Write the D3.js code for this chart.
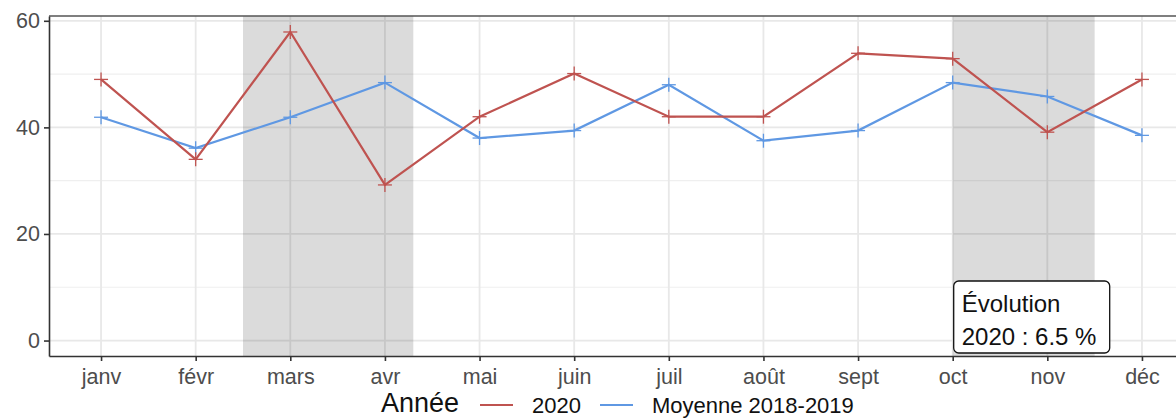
<!DOCTYPE html>
<html>
<head>
<meta charset="utf-8">
<script src="https://cdn.jsdelivr.net/npm/d3@7"></script>
<style>
html,body{margin:0;padding:0;background:#fff;}
svg{display:block;font-family:"Liberation Sans",Arial,sans-serif;}
</style>
</head>
<body>
<svg id="chart" width="1176" height="418"></svg>
<script>
const months = ["janv","févr","mars","avr","mai","juin","juil","août","sept","oct","nov","déc"];
const values2020 = [49, 34, 57.9, 29.2, 42, 50.1, 42, 42, 53.9, 52.9, 39.1, 49];
const valuesMoyenne = [41.9, 36.1, 41.9, 48.4, 38, 39.4, 48, 37.5, 39.4, 48.4, 45.8, 38.5];
const shadedPeriods = [[2.5, 4.3], [10, 11.5]];
const yTicks = [0, 20, 40, 60];
const yMinor = [10, 30, 50];
const seriesNames = ["2020", "Moyenne 2018-2019"];
const annotationLines = ["Évolution", "2020 : 6.5 %"];

(function () {
const colors = {"2020": "#bf5350", "Moyenne 2018-2019": "#5f98e3"};
const svg = d3.select("#chart");
const pLeft = 49, pTop = 16, pBottom = 356, pRight = 1194;

const x = d3.scaleLinear().domain([0.45, 12.55]).range([pLeft, pRight]);
const y = d3.scaleLinear().domain([-2.9, 60.9]).range([pBottom, pTop]);
const monthIdx = d3.range(1, 13);

// background grid
const grid = svg.append("g");
grid.selectAll(".ymin").data(yMinor).enter().append("line")
  .attr("x1", pLeft).attr("x2", pRight).attr("y1", d => y(d)).attr("y2", d => y(d))
  .attr("stroke", "#efefef").attr("stroke-width", 1.2);
grid.selectAll(".ymaj").data(yTicks).enter().append("line")
  .attr("x1", pLeft).attr("x2", pRight).attr("y1", d => y(d)).attr("y2", d => y(d))
  .attr("stroke", "#e8e8e8").attr("stroke-width", 1.8);
grid.selectAll(".xmaj").data(monthIdx).enter().append("line")
  .attr("x1", d => x(d)).attr("x2", d => x(d)).attr("y1", pTop).attr("y2", pBottom)
  .attr("stroke", "#e8e8e8").attr("stroke-width", 1.8);

// shaded periods
svg.append("g").selectAll("rect").data(shadedPeriods).enter().append("rect")
  .attr("x", d => x(d[0])).attr("width", d => x(d[1]) - x(d[0]))
  .attr("y", pTop).attr("height", pBottom - pTop)
  .attr("fill", "#000").attr("fill-opacity", 0.14);

// lines
const series = [
  {name: "Moyenne 2018-2019", vals: valuesMoyenne},
  {name: "2020", vals: values2020}
];
const line = d3.line().x((d, i) => x(i + 1)).y(d => y(d));
series.forEach(s => {
  const g = svg.append("g");
  g.append("path").datum(s.vals).attr("d", line)
    .attr("fill", "none").attr("stroke", colors[s.name]).attr("stroke-width", 2.2);
  const pts = g.selectAll("g.pt").data(s.vals).enter().append("g")
    .attr("transform", (d, i) => `translate(${x(i + 1)},${y(d)})`);
  pts.append("line").attr("x1", -7).attr("x2", 7).attr("y1", 0).attr("y2", 0)
    .attr("stroke", colors[s.name]).attr("stroke-width", 1.3);
  pts.append("line").attr("x1", 0).attr("x2", 0).attr("y1", -7).attr("y2", 7)
    .attr("stroke", colors[s.name]).attr("stroke-width", 1.3);
});

// panel border (top) and axes
svg.append("line").attr("x1", pLeft).attr("x2", pRight).attr("y1", pTop).attr("y2", pTop)
  .attr("stroke", "#555").attr("stroke-width", 1.5);

const yAxis = svg.append("g").attr("transform", `translate(${pLeft},0)`)
  .call(d3.axisLeft(y).tickValues(yTicks).tickSize(5).tickSizeOuter(0).tickPadding(4));
yAxis.select(".domain").attr("stroke", "#333").attr("stroke-width", 1.6);
yAxis.selectAll(".tick line").attr("stroke", "#333").attr("stroke-width", 1.6);
yAxis.selectAll("text").attr("font-size", 21.5).attr("fill", "#4d4d4d")
  .attr("font-family", "Liberation Sans, Arial, sans-serif");

const xAxis = svg.append("g").attr("transform", `translate(0,${pBottom})`)
  .call(d3.axisBottom(x).tickValues(monthIdx).tickFormat(d => months[d - 1]).tickSize(5).tickSizeOuter(0).tickPadding(8));
xAxis.select(".domain").attr("stroke", "#333").attr("stroke-width", 1.6);
xAxis.selectAll(".tick line").attr("stroke", "#333").attr("stroke-width", 1.6);
xAxis.selectAll("text").attr("font-size", 21.5).attr("fill", "#4d4d4d")
  .attr("font-family", "Liberation Sans, Arial, sans-serif");

// annotation box
const ann = svg.append("g");
ann.append("rect").attr("x", x(10) + 1).attr("y", 281).attr("width", 156).attr("height", 72)
  .attr("rx", 5).attr("fill", "#fff").attr("stroke", "#111").attr("stroke-width", 1.3);
ann.selectAll("text").data(annotationLines).enter().append("text")
  .attr("x", x(10) + 9).attr("y", (d, i) => 312 + i * 33)
  .attr("font-size", 24).attr("fill", "#111").text(d => d);

// legend
const leg = svg.append("g");
leg.append("text").attr("x", 381).attr("y", 412).attr("font-size", 27).attr("fill", "#111").text("Année");
const legItems = [
  {name: seriesNames[0], lx: 480, tx: 532},
  {name: seriesNames[1], lx: 600, tx: 652}
];
legItems.forEach(it => {
  leg.append("line").attr("x1", it.lx).attr("x2", it.lx + 33).attr("y1", 405).attr("y2", 405)
    .attr("stroke", colors[it.name]).attr("stroke-width", 2);
  leg.append("text").attr("x", it.tx).attr("y", 413).attr("font-size", 22).attr("fill", "#111").text(it.name);
});
})();
</script>
</body>
</html>
